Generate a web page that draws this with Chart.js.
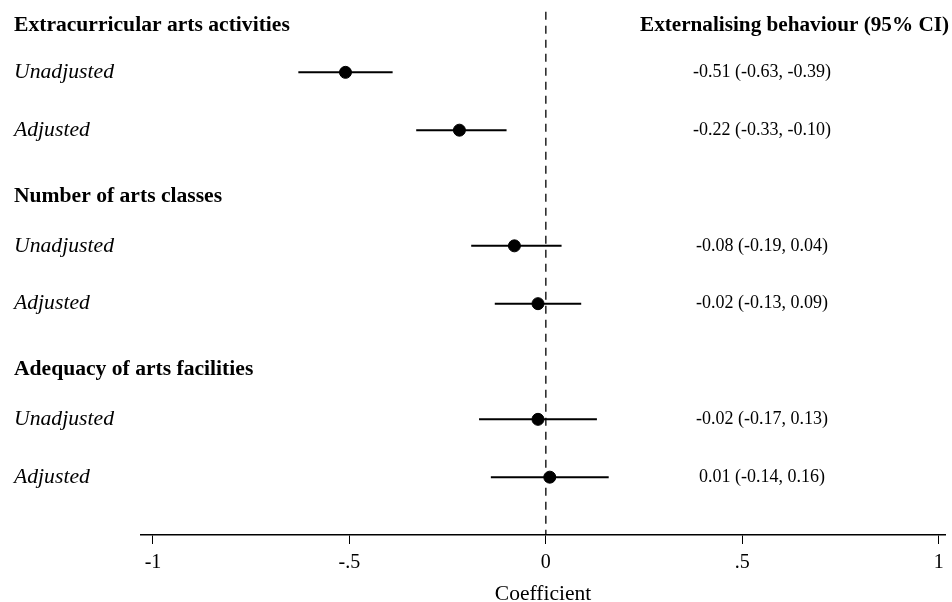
<!DOCTYPE html>
<html>
<head>
<meta charset="utf-8">
<script src="https://cdn.jsdelivr.net/npm/chart.js@4.4.1/dist/chart.umd.min.js"></script>
<style>
  html, body { margin: 0; padding: 0; background: #fff; }
  #wrap { width: 952px; height: 602px; position: relative; }
</style>
</head>
<body>
<div id="wrap"><canvas id="c" width="952" height="602"></canvas></div>
<script>
// ---- data ----
const groups = ["Extracurricular arts activities", "Number of arts classes", "Adequacy of arts facilities"];
const rowLabels = ["Unadjusted", "Adjusted", "Unadjusted", "Adjusted", "Unadjusted", "Adjusted"];
const rowGroup = [0, 0, 1, 1, 2, 2];
const estimates = [-0.51, -0.22, -0.08, -0.02, -0.02, 0.01];
const lowerCI = [-0.63, -0.33, -0.19, -0.13, -0.17, -0.14];
const upperCI = [-0.39, -0.10, 0.04, 0.09, 0.13, 0.16];
const xTicks = [-1, -0.5, 0, 0.5, 1];
const columnTitle = "Externalising behaviour (95% CI)";
const axisTitle = "Coefficient";

// row positions (each group: header row then two rows)
const rowPos = rowGroup.map((g, i) => g * 3 + (i % 2));
const headerPos = groups.map((g, i) => i * 3 - 0.86);

const fmt = v => v.toFixed(2);
const valueText = estimates.map((e, i) => `${fmt(e)} (${fmt(lowerCI[i])}, ${fmt(upperCI[i])})`);

const FONT = "'Liberation Serif', 'Times New Roman', serif";

const datasets = [];
// zero reference line
datasets.push({
  type: 'line',
  data: [{x: 0, y: -1.05}, {x: 0, y: 8}],
  borderColor: '#000', borderWidth: 1.3, borderDash: [8, 6],
  pointRadius: 0, showLine: true, fill: false
});
// CI lines
estimates.forEach((e, i) => {
  datasets.push({
    type: 'line',
    data: [{x: lowerCI[i], y: rowPos[i]}, {x: upperCI[i], y: rowPos[i]}],
    borderColor: '#000', borderWidth: 2, pointRadius: 0, showLine: true, fill: false
  });
});
// point estimates
datasets.push({
  type: 'scatter',
  data: estimates.map((e, i) => ({x: e, y: rowPos[i]})),
  backgroundColor: '#000', borderColor: '#000', pointRadius: 6, pointHoverRadius: 6
});

const textPlugin = {
  id: 'forestText',
  afterDraw(chart) {
    const ctx = chart.ctx;
    const y = chart.scales.y;
    ctx.save();
    ctx.fillStyle = '#000';
    ctx.textBaseline = 'middle';
    // group headers
    ctx.font = `bold 21.6px ${FONT}`;
    ctx.textAlign = 'left';
    groups.forEach((g, i) => ctx.fillText(g, 14, y.getPixelForValue(headerPos[i]) + (i === 0 ? 3 : 0)));
    // column title
    ctx.font = `bold 21.2px ${FONT}`;
    ctx.textAlign = 'right';
    ctx.fillText(columnTitle, 949, y.getPixelForValue(headerPos[0]) + 3);
    // row labels
    ctx.font = `italic 21.7px ${FONT}`;
    ctx.textAlign = 'left';
    rowLabels.forEach((l, i) => ctx.fillText(l, 14, y.getPixelForValue(rowPos[i])));
    // values
    ctx.font = `18px ${FONT}`;
    ctx.textAlign = 'center';
    valueText.forEach((t, i) => ctx.fillText(t, 762, y.getPixelForValue(rowPos[i])));
    ctx.restore();
  }
};

new Chart(document.getElementById('c'), {
  type: 'scatter',
  data: { datasets },
  options: {
    responsive: false,
    animation: false,
    devicePixelRatio: 1,
    layout: { padding: { left: 141, right: 0, top: 0, bottom: 0 } },
    plugins: { legend: { display: false }, tooltip: { enabled: false } },
    scales: {
      x: {
        type: 'linear', min: -1.0305, max: 1.016,
        afterBuildTicks: s => { s.ticks = xTicks.map(v => ({value: v})); },
        afterFit: s => { s.height = 67; },
        grid: { drawOnChartArea: false, drawTicks: true, tickLength: 9, color: '#000', lineWidth: 1 },
        border: { display: true, color: '#000', width: 1.5 },
        ticks: {
          color: '#000', padding: 7, maxRotation: 0,
          font: { family: FONT, size: 20 },
          callback: v => v === 0 ? '0' : String(v).replace('0.', '.')
        },
        title: { display: true, text: axisTitle, color: '#000', font: { family: FONT, size: 21.5, lineHeight: 0.7 }, padding: { top: 0, bottom: 0 } }
      },
      y: { type: 'linear', reverse: true, min: -1.13, max: 8, display: false }
    }
  },
  plugins: [textPlugin]
});
</script>
</body>
</html>
